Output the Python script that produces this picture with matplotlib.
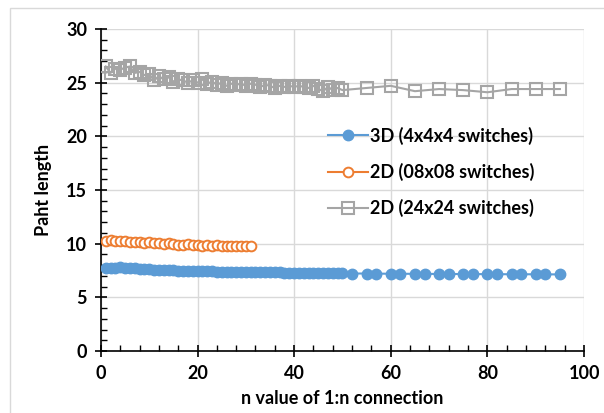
import matplotlib
matplotlib.use('Agg')
import matplotlib.pyplot as plt
from matplotlib.patches import Rectangle
from matplotlib.ticker import MultipleLocator

# 3D (4x4x4 switches)
x_3d = list(range(1, 51)) + [52, 55, 57, 60, 62, 65, 67, 70, 72, 75, 77, 80, 82, 85, 87, 90, 92, 95]
y_3d = [7.75, 7.78, 7.76, 7.80, 7.74, 7.72, 7.70, 7.66, 7.62, 7.60, 7.58, 7.56, 7.55, 7.54, 7.52,
        7.50, 7.48, 7.47, 7.46, 7.45, 7.44, 7.42, 7.41, 7.40, 7.40, 7.39, 7.38, 7.38, 7.37, 7.36,
        7.36, 7.35, 7.34, 7.34, 7.33, 7.32, 7.32, 7.31, 7.30, 7.30, 7.29, 7.28, 7.28, 7.27, 7.27,
        7.26, 7.25, 7.25, 7.24, 7.24,
        7.22, 7.22, 7.21, 7.20, 7.20, 7.19, 7.19, 7.18, 7.18, 7.17, 7.17, 7.16, 7.16, 7.15, 7.15,
        7.15, 7.14, 7.14]

# 2D (08x08 switches)
x_2d8 = list(range(1, 32))
y_2d8 = [10.25, 10.30, 10.28, 10.22, 10.26, 10.20, 10.15, 10.18, 10.10, 10.12, 10.05, 10.08, 10.00,
         10.02, 9.96, 9.92, 9.88, 9.95, 9.85, 9.90, 9.82, 9.86, 9.80, 9.84, 9.78, 9.82, 9.76, 9.80,
         9.74, 9.78, 9.75]

# 2D (24x24 switches)
x_2d24 = list(range(1, 51)) + [55, 60, 65, 70, 75, 80, 85, 90, 95]
y_2d24 = [26.5, 25.9, 26.3, 26.2, 26.4, 26.5, 25.9, 26.0, 25.7, 25.8, 25.2, 25.6, 25.3, 25.5, 25.1,
          25.3, 25.2, 25.0, 25.2, 25.0, 25.3, 24.9, 25.1, 24.8, 25.0, 24.7, 24.9, 24.8, 24.9, 24.7,
          24.9, 24.8, 24.6, 24.8, 24.7, 24.5, 24.7, 24.6, 24.7, 24.6, 24.7, 24.6, 24.5, 24.7, 24.4,
          24.2, 24.6, 24.3, 24.5, 24.3,
          24.5, 24.7, 24.2, 24.4, 24.3, 24.1, 24.4, 24.4, 24.4]

labels = ['3D (4x4x4 switches)', '2D (08x08 switches)', '2D (24x24 switches)']
colors = ['#5b9bd5', '#ed7d31', '#a5a5a5']

plt.rcParams['font.family'] = ['Lato', 'DejaVu Sans']
plt.rcParams['font.weight'] = 'bold'

fig = plt.figure(figsize=(6.04, 4.13), dpi=100)
ax = fig.add_axes([0.167, 0.150, 0.800, 0.780])

# chart area border
fig.patches.append(Rectangle((10 / 604, -0.05), 1.1, 1.05 - 8 / 413,
                             transform=fig.transFigure, fill=False,
                             edgecolor='#d9d9d9', linewidth=1.0))

ax.plot(x_3d, y_3d, color=colors[0], linewidth=1.5, marker='o', markersize=7.5,
        markerfacecolor=colors[0], markeredgecolor=colors[0], label=labels[0], zorder=3)
ax.plot(x_2d8, y_2d8, color=colors[1], linewidth=1.5, marker='o', markersize=7,
        markerfacecolor='white', markeredgecolor=colors[1], markeredgewidth=1.4,
        label=labels[1], zorder=3)
ax.plot(x_2d24, y_2d24, color=colors[2], linewidth=1.5, marker='s', markersize=8,
        markerfacecolor='none', markeredgecolor=colors[2], markeredgewidth=1.5,
        label=labels[2], zorder=3)

ax.set_xlim(0, 100)
ax.set_ylim(0, 30)
ax.xaxis.set_major_locator(MultipleLocator(20))
ax.xaxis.set_minor_locator(MultipleLocator(4))
ax.yaxis.set_major_locator(MultipleLocator(5))
ax.yaxis.set_minor_locator(MultipleLocator(1))

ax.grid(True, which='major', color='#d9d9d9', linewidth=1.0)
ax.set_axisbelow(True)
for side in ['top', 'right']:
    ax.spines[side].set_visible(False)
for side in ['left', 'bottom']:
    ax.spines[side].set_color('black')
    ax.spines[side].set_linewidth(1.2)

ax.tick_params(which='major', direction='inout', length=8, width=1.2, labelsize=13, pad=6)
ax.tick_params(which='minor', direction='in', length=4, width=1.0)

ax.set_xlabel('n value of 1:n connection', fontsize=13, fontweight='bold', labelpad=6)
ax.set_ylabel('Paht length', fontsize=13, fontweight='bold', labelpad=10)

ax.legend(loc='center left', bbox_to_anchor=(0.47, 0.556), frameon=False,
          fontsize=13, borderpad=0, borderaxespad=0, labelspacing=1.0,
          handlelength=2.2, handletextpad=0.15)

fig.savefig('out.png', dpi=100)
